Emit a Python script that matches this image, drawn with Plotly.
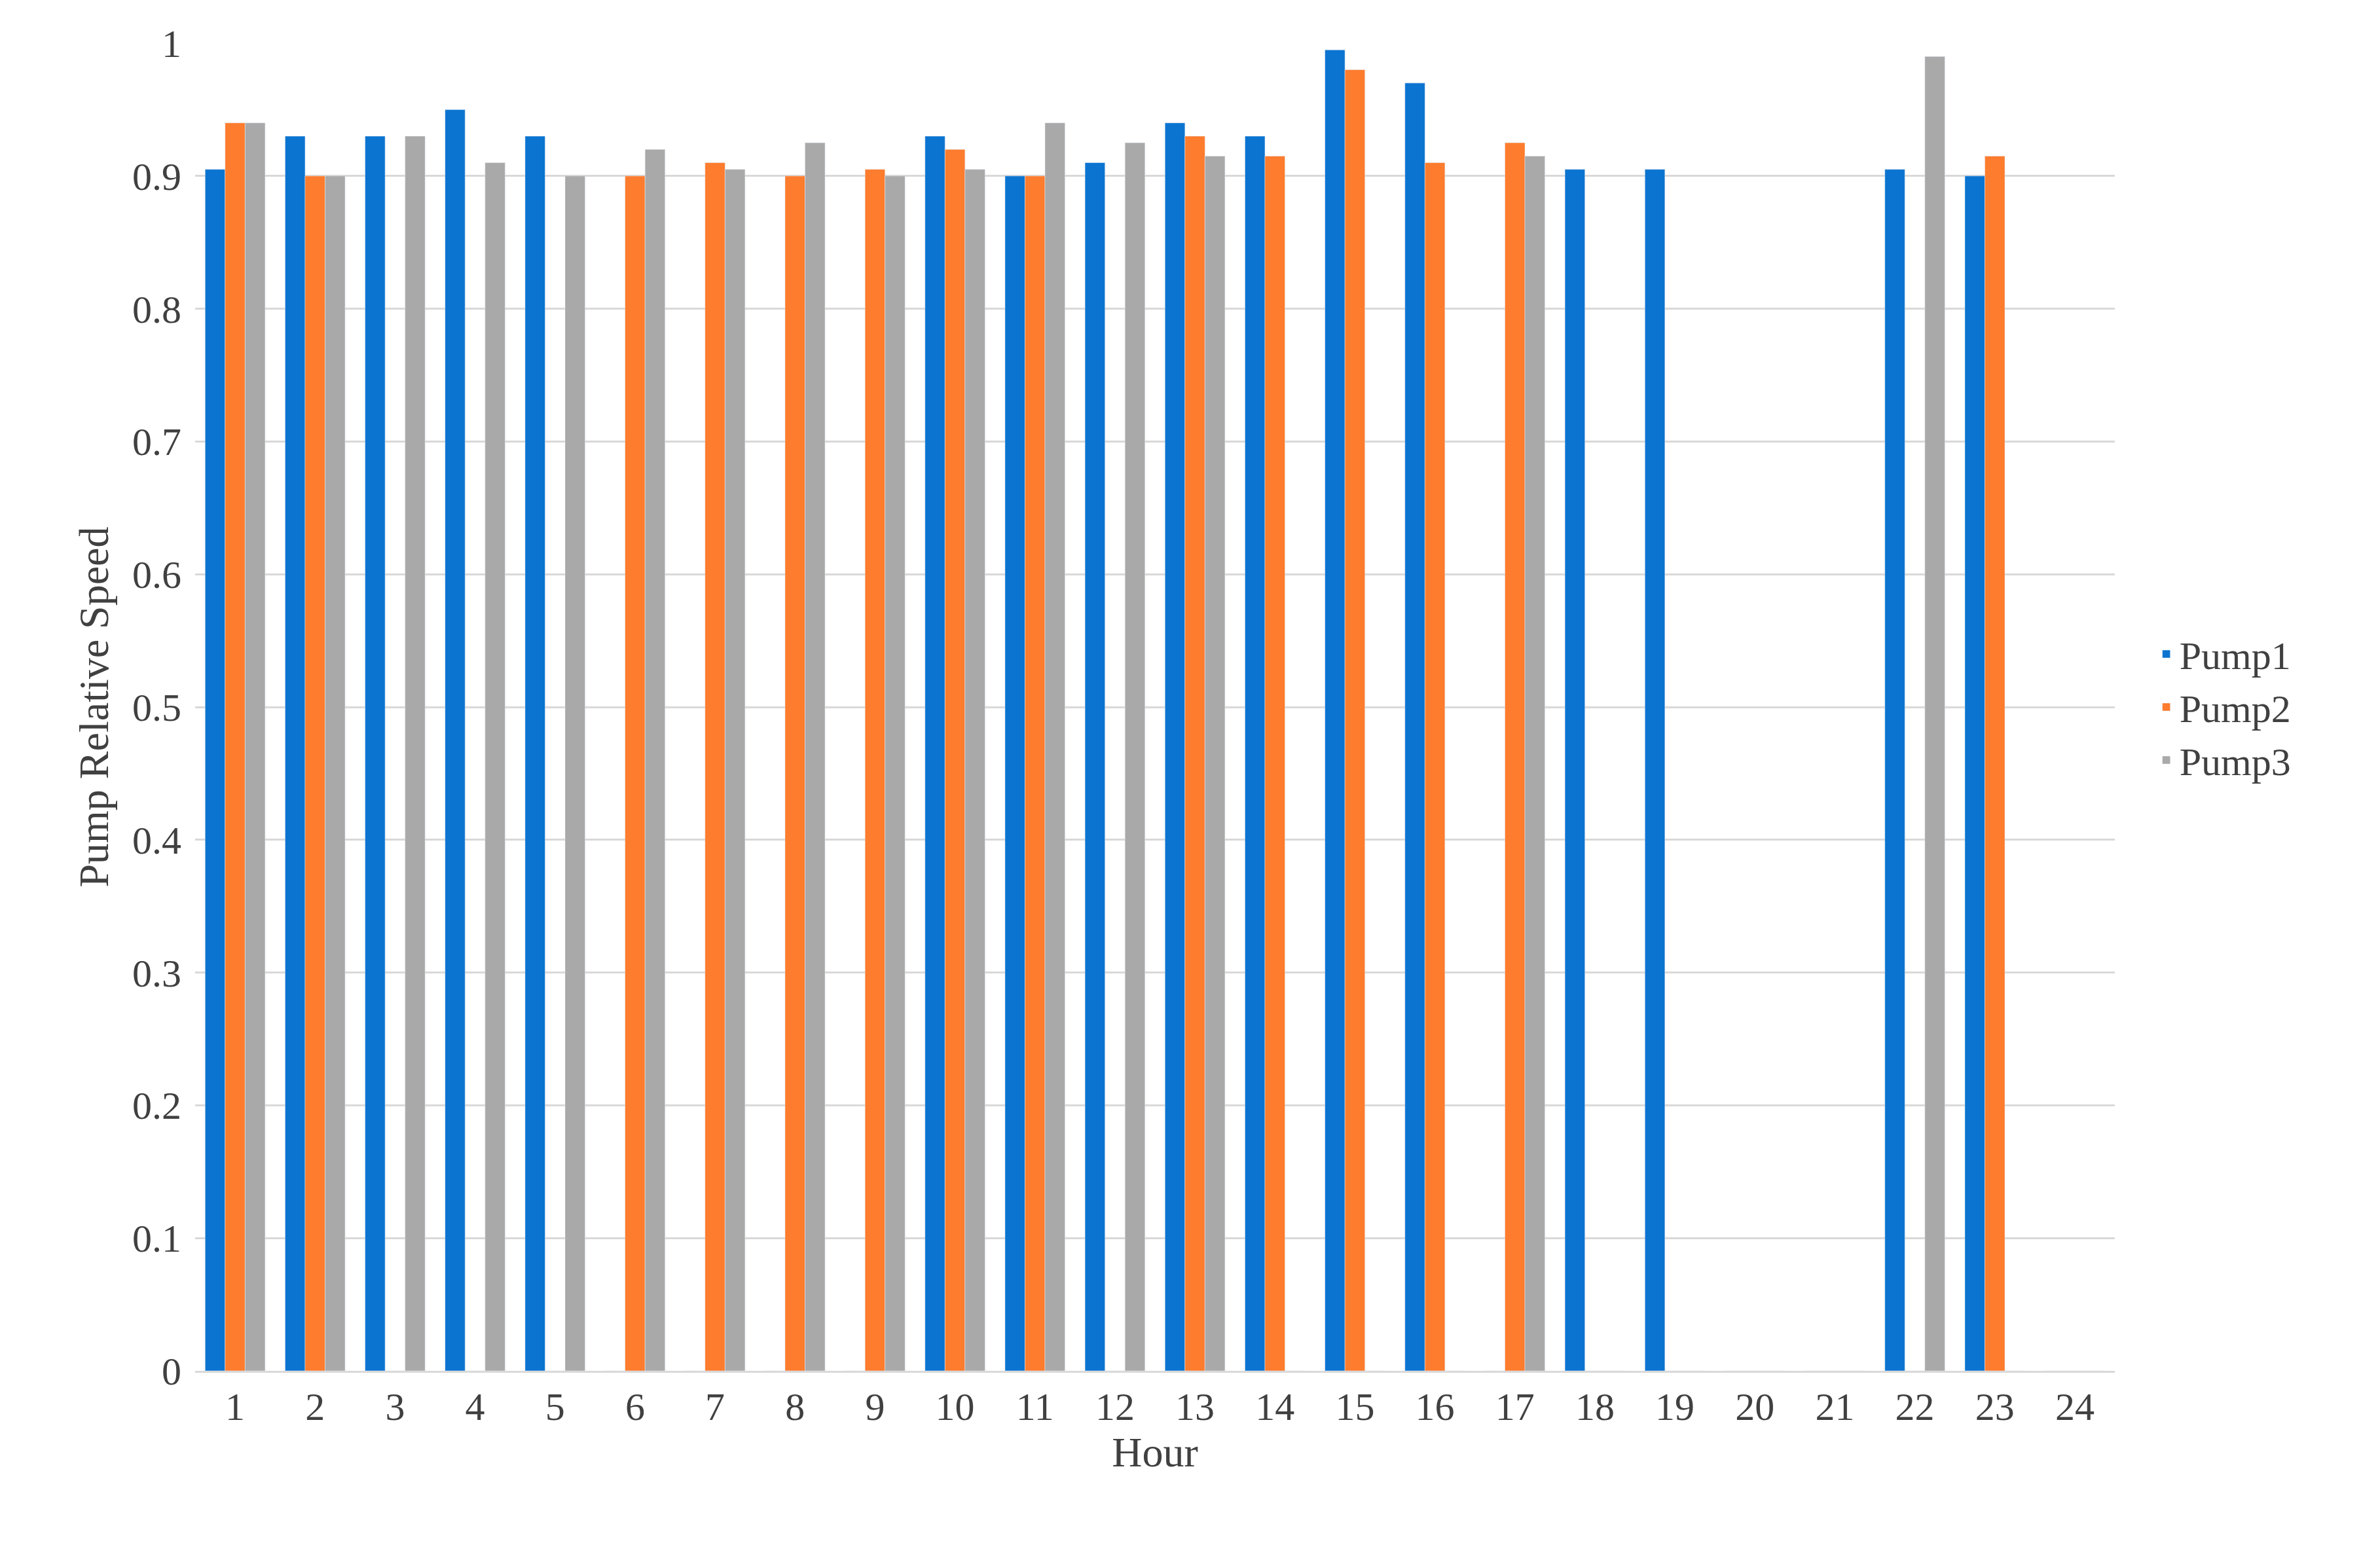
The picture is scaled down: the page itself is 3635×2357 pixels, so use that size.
import plotly.graph_objects as go

hours = [str(h) for h in range(1, 25)]
pump1 = [0.905,0.93,0.93,0.95,0.93,0,0,0,0,0.93,0.90,0.91,0.94,0.93,0.995,0.97,0,0.905,0.905,0,0,0.905,0.90,0]
pump2 = [0.94,0.90,0,0,0,0.90,0.91,0.90,0.905,0.92,0.90,0,0.93,0.915,0.98,0.91,0.925,0,0,0,0,0,0.915,0]
pump3 = [0.94,0.90,0.93,0.91,0.90,0.92,0.905,0.925,0.90,0.905,0.94,0.925,0.915,0,0,0,0.915,0,0,0,0,0.99,0,0]

font = "Liberation Serif"
fig = go.Figure()
for name, vals, col in [("Pump1", pump1, "#0B74D0"), ("Pump2", pump2, "#FD7C2D"), ("Pump3", pump3, "#A9A9A9")]:
    fig.add_bar(x=hours, y=vals, name=name, marker_color=col)

fig.update_layout(
    width=3635, height=2357, barmode="group", bargap=0.25, bargroupgap=0,
    plot_bgcolor="white", paper_bgcolor="white",
    margin=dict(l=290, r=413, t=58, b=271),
    font=dict(family=font, size=60, color="#404040"),
    legend=dict(x=1.02, y=0.5, xanchor="left", yanchor="middle", font=dict(size=60, color="#404040")),
    xaxis=dict(title=dict(text="Hour", font=dict(size=64)), showline=True, linecolor="#D9D9D9", linewidth=3, ticks=""),
    yaxis=dict(title=dict(text="Pump Relative Speed", font=dict(size=64)), range=[0, 1], dtick=0.1,
               tickvals=[i/10 for i in range(11)], ticktext=["0"]+[f"0.{i}" for i in range(1,10)]+["1"],
               gridcolor="#D9D9D9", gridwidth=3, zeroline=False, ticks="", ticklabelstandoff=20),
)
fig.write_html("out.html")
